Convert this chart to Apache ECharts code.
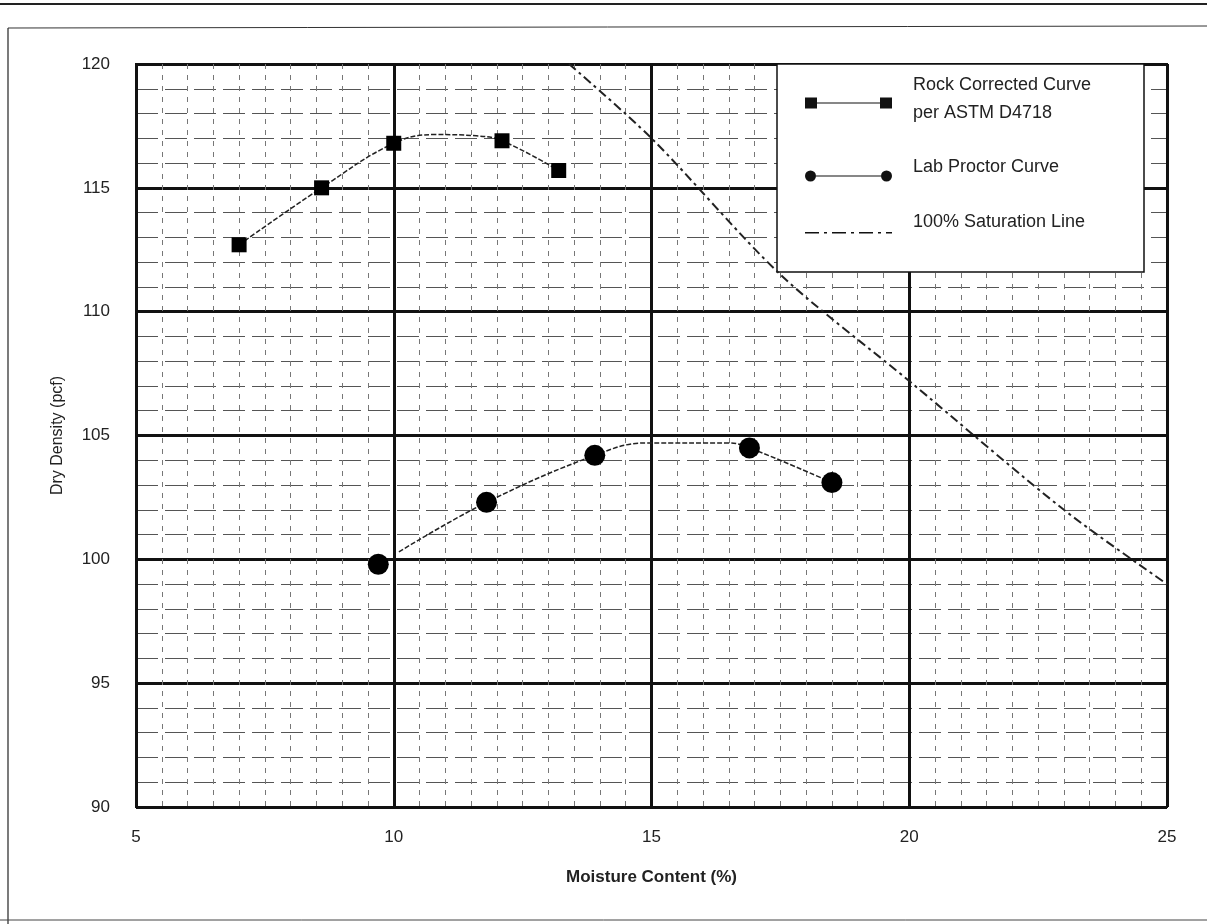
<!DOCTYPE html>
<html>
<head>
<meta charset="utf-8">
<script src="https://cdn.jsdelivr.net/npm/echarts@6/dist/echarts.min.js"></script>
<style>
html,body{margin:0;padding:0;background:#fff;}
#chart{width:1207px;height:924px;}
</style>
</head>
<body>
<div id="chart"></div>
<script>
// ---- data ----
const xTicks = [5, 10, 15, 20, 25];
const yTicks = [90, 95, 100, 105, 110, 115, 120];

const rockX = [7.0, 8.6, 10.0, 12.1, 13.2];
const rockY = [112.7, 115.0, 116.8, 116.9, 115.7];
const rockCurveX = [7.0, 8.6, 10.0, 10.8, 11.6, 12.1, 13.2];
const rockCurveY = [112.7, 115.0, 116.8, 117.15, 117.1, 116.9, 115.7];

const proctorX = [9.7, 11.8, 13.9, 16.9, 18.5];
const proctorY = [99.8, 102.3, 104.2, 104.5, 103.1];
const proctorCurveX = [10.1, 11.8, 13.9, 14.9, 16.5, 16.9, 18.5];
const proctorCurveY = [100.3, 102.3, 104.2, 104.7, 104.7, 104.5, 103.1];

const satX = [13.4, 15.0, 17.5, 20.0, 23.0, 25.0];
const satY = [120.0, 117.0, 111.5, 107.2, 102.0, 99.0];

const seriesNames = ['Rock Corrected Curve\nper ASTM D4718', 'Lab Proctor Curve', '100% Saturation Line'];
const xTitle = 'Moisture Content (%)';
const yTitle = 'Dry Density (pcf)';

const zip = (a, b) => a.map((v, i) => [v, b[i]]);

const FONT = 'Liberation Sans, Arial, sans-serif';
// legend icons, all on an 87x30 box (tiny corner dots fix the box) so the glyph sits a little below the text centre
const BOX = 'M0,0h0.01v0.01h-0.01zM86.99,29.99h0.01v0.01h-0.01z';
const rockIcon = 'path://' + BOX + 'M0,13.5h12v11h-12zM12,18.4h63v1.2h-63zM75,13.5h12v11h-12z';
const circIcon = 'path://' + BOX + 'M0,24a5.5,5.5 0 1,0 11,0a5.5,5.5 0 1,0 -11,0zM11,23.4h65v1.2h-65zM76,24a5.5,5.5 0 1,0 11,0a5.5,5.5 0 1,0 -11,0z';
const satIcon = 'path://' + BOX + 'M0,25h14v1.4h-14zM19,25h3v1.4h-3zM27,25h14v1.4h-14zM46,25h3v1.4h-3zM54,25h14v1.4h-14zM73,25h3v1.4h-3zM81,25h6v1.4h-6z';

const chart = echarts.init(document.getElementById('chart'));
chart.setOption({
  animation: false,
  backgroundColor: '#fff',
  grid: {left: 136, right: 40, top: 64, bottom: 117, show: true, borderColor: '#111', borderWidth: 2, backgroundColor: 'transparent'},
  xAxis: {
    type: 'value', min: xTicks[0], max: xTicks[xTicks.length - 1], interval: 5,
    name: xTitle, nameLocation: 'middle', nameGap: 62,
    nameTextStyle: {fontFamily: FONT, fontSize: 17, fontWeight: 'bold', color: '#222'},
    axisLine: {show: true, lineStyle: {color: '#111', width: 2}},
    axisTick: {show: false},
    axisLabel: {fontFamily: FONT, fontSize: 17, color: '#222', margin: 22},
    splitLine: {show: true, lineStyle: {color: '#111', width: 3}},
    minorTick: {show: false, splitNumber: 10},
    minorSplitLine: {show: true, lineStyle: {color: '#777', width: 1, type: [5, 6]}}
  },
  yAxis: {
    type: 'value', min: yTicks[0], max: yTicks[yTicks.length - 1], interval: 5,
    name: yTitle, nameLocation: 'middle', nameGap: 70, nameRotate: 90,
    nameTextStyle: {fontFamily: FONT, fontSize: 16, color: '#222'},
    axisLine: {show: true, lineStyle: {color: '#111', width: 2}},
    axisTick: {show: false},
    axisLabel: {fontFamily: FONT, fontSize: 17, color: '#222', margin: 26},
    splitLine: {show: true, lineStyle: {color: '#111', width: 3}},
    minorTick: {show: false, splitNumber: 5},
    minorSplitLine: {show: true, lineStyle: {color: '#555', width: 1.2, type: [22, 7]}}
  },
  legend: {
    orient: 'vertical', left: 800, top: 66, itemGap: 25, itemWidth: 87, itemHeight: 30,
    z: 10,
    data: [
      {name: seriesNames[0], icon: rockIcon},
      {name: seriesNames[1], icon: circIcon},
      {name: seriesNames[2], icon: satIcon}
    ],
    itemStyle: {opacity: 1},
    textStyle: {fontFamily: FONT, fontSize: 18, color: '#222', lineHeight: 28, padding: [0, 0, 0, 16]}
  },
  graphic: [
    {type: 'rect', z: 3, shape: {x: 777, y: 64, width: 367, height: 208}, style: {fill: '#fff', stroke: '#111', lineWidth: 1.5}},
    {type: 'line', z: 1, shape: {x1: 8, y1: 28, x2: 8, y2: 924}, style: {stroke: '#222', lineWidth: 1.2}},
    {type: 'line', z: 1, shape: {x1: 8, y1: 28, x2: 1207, y2: 26}, style: {stroke: '#333', lineWidth: 1}},
    {type: 'line', z: 1, shape: {x1: 0, y1: 920, x2: 1207, y2: 920}, style: {stroke: '#444', lineWidth: 1}},
    {type: 'line', z: 1, shape: {x1: 0, y1: 4, x2: 1207, y2: 4}, style: {stroke: '#222', lineWidth: 2}}
  ],
  series: [
    {name: seriesNames[0], type: 'line', data: zip(rockCurveX, rockCurveY), smooth: 0.4, showSymbol: false, symbol: 'none',
     lineStyle: {color: '#222', width: 1.5, type: [5, 2]}, itemStyle: {color: '#111'}, z: 4},
    {name: seriesNames[0], type: 'scatter', data: zip(rockX, rockY), symbol: 'rect', symbolSize: 15, itemStyle: {color: '#000', opacity: 1}, z: 5},
    {name: seriesNames[1], type: 'line', data: zip(proctorCurveX, proctorCurveY), smooth: 0.4, showSymbol: false, symbol: 'none',
     lineStyle: {color: '#222', width: 1.5, type: [5, 2]}, itemStyle: {color: '#111'}, z: 4},
    {name: seriesNames[1], type: 'scatter', data: zip(proctorX, proctorY), symbol: 'circle', symbolSize: 21, itemStyle: {color: '#000', opacity: 1}, z: 5},
    {name: seriesNames[2], type: 'line', data: zip(satX, satY), smooth: 0.3, showSymbol: false, symbol: 'none',
     lineStyle: {color: '#222', width: 2, type: [9, 4, 3, 4]}, itemStyle: {color: '#111'}, z: 4}
  ]
});
</script>
</body>
</html>
